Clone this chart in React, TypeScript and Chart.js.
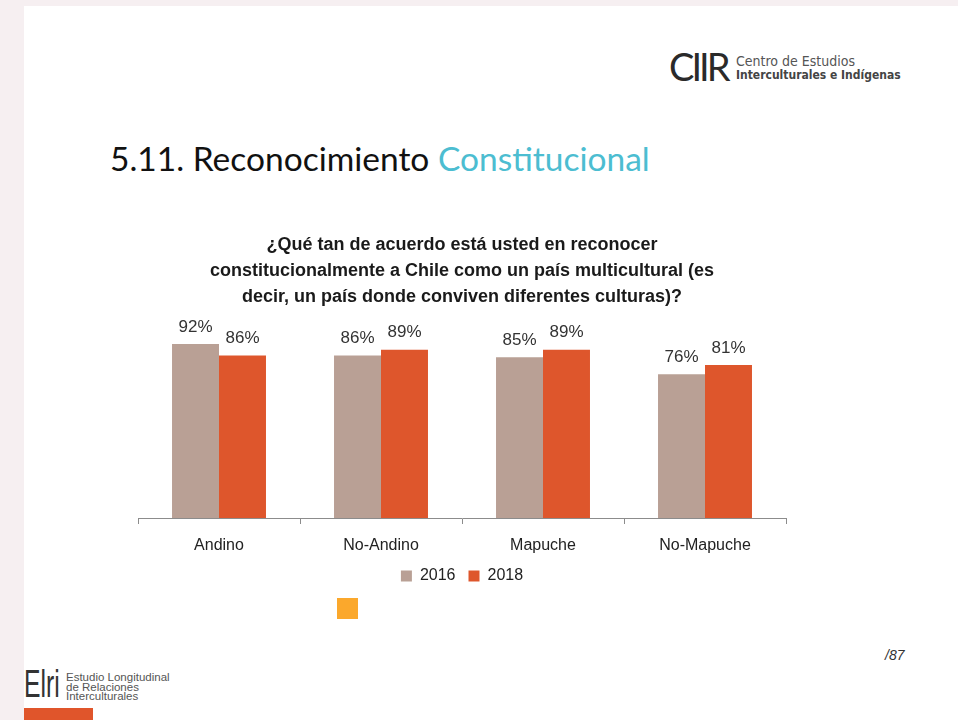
import React, { useEffect, useRef } from "react";
import { Chart, registerables } from "chart.js";

Chart.register(...registerables);

const categories = ["Andino", "No-Andino", "Mapuche", "No-Mapuche"];
const seriesNames = ["2016", "2018"];
const values2016 = [92, 86, 85, 76];
const values2018 = [86, 89, 89, 81];
const questionLines = [
  "¿Qué tan de acuerdo está usted en reconocer",
  "constitucionalmente a Chile como un país multicultural (es",
  "decir, un país donde conviven diferentes culturas)?",
];

const SANS = '"Liberation Sans", Arial, sans-serif';
const COLOR_2016 = "#b9a095";
const COLOR_2018 = "#de562c";

const valueLabels = {
  id: "valueLabels",
  afterDatasetsDraw(chart: any) {
    const { ctx } = chart;
    ctx.save();
    ctx.font = `17px ${SANS}`;
    ctx.fillStyle = "#333333";
    ctx.textAlign = "center";
    ctx.textBaseline = "middle";
    chart.data.datasets.forEach((ds: any, i: number) => {
      const meta = chart.getDatasetMeta(i);
      meta.data.forEach((bar: any, j: number) => {
        ctx.fillText(`${ds.data[j]}%`, bar.x, bar.y - 17);
      });
    });
    ctx.restore();
  },
};

function BarChart() {
  const ref = useRef<HTMLCanvasElement | null>(null);
  useEffect(() => {
    if (!ref.current) return;
    const chart = new Chart(ref.current, {
      type: "bar",
      data: {
        labels: categories,
        datasets: [
          { label: seriesNames[0], data: values2016, backgroundColor: COLOR_2016 },
          { label: seriesNames[1], data: values2018, backgroundColor: COLOR_2018 },
        ],
      },
      options: {
        responsive: false,
        animation: false,
        events: [],
        datasets: { bar: { categoryPercentage: 0.58, barPercentage: 1 } },
        layout: { padding: { left: 38, right: 44, top: 0, bottom: 16 } },
        scales: {
          x: {
            grid: {
              display: true,
              drawOnChartArea: false,
              offset: true,
              tickLength: 6,
              color: "#8c8c8c",
            },
            border: { display: true, color: "#8c8c8c", width: 1 },
            ticks: { color: "#222222", padding: 12, font: { family: SANS, size: 16 } },
            afterFit: (scale: any) => {
              scale.height = 37;
            },
          },
          y: { display: false, min: 0, max: 100 },
        },
        plugins: {
          title: {
            display: true,
            text: questionLines,
            color: "#1a1a1a",
            font: { family: SANS, size: 18, weight: "bold", lineHeight: 26 / 18 },
            padding: { top: 12, bottom: 19 },
          },
          legend: {
            position: "bottom",
            labels: {
              boxWidth: 11,
              boxHeight: 11,
              padding: 13,
              color: "#222222",
              font: { family: SANS, size: 16 },
            },
          },
          tooltip: { enabled: false },
        },
      },
      plugins: [valueLabels],
    });
    return () => chart.destroy();
  }, []);
  return (
    <canvas
      ref={ref}
      width={730}
      height={390}
      style={{ position: "absolute", left: 100, top: 220, width: 730, height: 390 }}
    />
  );
}

export default function App() {
  return (
    <div
      style={{
        position: "absolute",
        left: 0,
        top: 0,
        width: 958,
        height: 720,
        overflow: "hidden",
        background: "#f6eff1",
        fontFamily: SANS,
      }}
    >
      <div style={{ position: "absolute", left: 24, top: 6, right: 0, bottom: 0, background: "#ffffff" }} />

      {/* header logo */}
      <div
        style={{
          position: "absolute",
          left: 669,
          top: 47,
          fontFamily: "Lato, sans-serif",
          fontSize: 38,
          lineHeight: "38px",
          color: "#2a2a2a",
          letterSpacing: -3,
        }}
      >
        CIIR
      </div>
      <div
        style={{
          position: "absolute",
          left: 736,
          top: 54,
          fontFamily: '"DejaVu Sans Condensed", "DejaVu Sans", sans-serif',
          color: "#555555",
        }}
      >
        <div style={{ fontSize: 14, lineHeight: "14px" }}>Centro de Estudios</div>
        <div style={{ fontSize: 12, lineHeight: "14px", fontWeight: "bold", color: "#444444" }}>
          Interculturales e Indígenas
        </div>
      </div>

      {/* slide heading */}
      <div
        style={{
          position: "absolute",
          left: 110,
          top: 137,
          fontFamily: "Lato, sans-serif",
          fontSize: 33.5,
          lineHeight: "42px",
          color: "#111111",
          whiteSpace: "nowrap",
        }}
      >
        5.11. Reconocimiento <span style={{ color: "#4cbdd1" }}>Constitucional</span>
      </div>

      <BarChart />

      <div style={{ position: "absolute", left: 337, top: 598, width: 21, height: 21, background: "#fba82c" }} />

      {/* footer */}
      <div
        style={{
          position: "absolute",
          left: 885,
          top: 647,
          fontSize: 14,
          fontStyle: "italic",
          color: "#333333",
        }}
      >
        /87
      </div>
      <div
        style={{
          position: "absolute",
          left: 24,
          top: 664,
          fontSize: 38,
          lineHeight: "40px",
          color: "#333333",
          transform: "scaleX(0.65)",
          transformOrigin: "left top",
        }}
      >
        Elri
      </div>
      <div
        style={{
          position: "absolute",
          left: 66,
          top: 673,
          fontSize: 11.5,
          lineHeight: "9.5px",
          color: "#555555",
        }}
      >
        <div>Estudio Longitudinal</div>
        <div>de Relaciones</div>
        <div>Interculturales</div>
      </div>
      <div style={{ position: "absolute", left: 24, top: 708, width: 69, height: 12, background: "#e0552b" }} />
    </div>
  );
}
